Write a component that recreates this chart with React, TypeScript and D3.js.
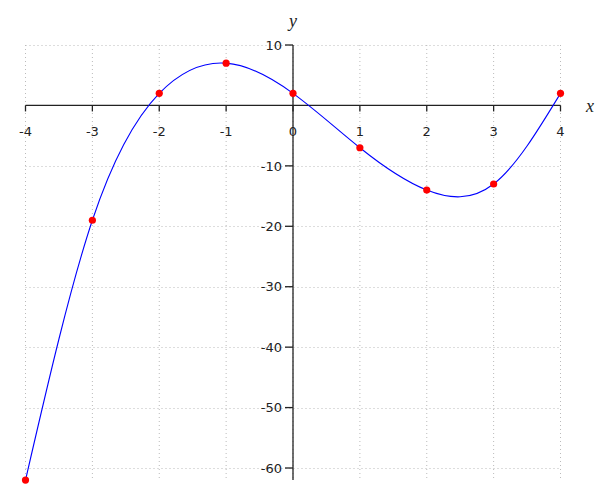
import React from "react";
import * as d3 from "d3";

const xValues = [-4, -3, -2, -1, 0, 1, 2, 3, 4];
const yValues = [-62, -19, 2, 7, 2, -7, -14, -13, 2];
const xTicks = [-4, -3, -2, -1, 0, 1, 2, 3, 4];
const yTicks = [10, 0, -10, -20, -30, -40, -50, -60];

export default function App() {
  const x = d3.scaleLinear().domain([-4, 4]).range([25.5, 560.5]);
  const y = d3.scaleLinear().domain([10, -60]).range([45, 468]);
  const pts = xValues.map((v, i) => [v, yValues[i]] as [number, number]);
  const line = d3
    .line<[number, number]>()
    .x((d) => x(d[0]))
    .y((d) => y(d[1]))
    .curve(d3.curveNatural);
  const x0 = x(0);
  const y0 = y(0);
  const yBottom = y(-62);
  const font = "DejaVu Sans, sans-serif";
  return (
    <svg
      width={600}
      height={500}
      style={{ position: "absolute", left: 0, top: 0, background: "#fff" }}
    >
      <g stroke="#bbb" strokeWidth={1} strokeDasharray="1 3">
        {yTicks.map((t) => (
          <line key={"h" + t} x1={x(-4)} x2={x(4)} y1={Math.round(y(t)) + 0.5} y2={Math.round(y(t)) + 0.5} />
        ))}
        {xTicks.map((t) => (
          <line key={"v" + t} x1={x(t)} x2={x(t)} y1={y(10)} y2={yBottom} />
        ))}
      </g>
      <g stroke="#222" strokeWidth={1.3}>
        <line x1={x(-4)} x2={x(4)} y1={y0} y2={y0} />
        <line x1={x0} x2={x0} y1={y(10)} y2={yBottom} />
        {xTicks.map((t) => (
          <line key={"xt" + t} x1={x(t)} x2={x(t)} y1={y0} y2={y0 + 6} />
        ))}
        {yTicks
          .filter((t) => t !== 0)
          .map((t) => (
            <line key={"yt" + t} x1={x0 - 8} x2={x0} y1={y(t)} y2={y(t)} />
          ))}
      </g>
      <g fontFamily={font} fontSize={13} fill="#222">
        {xTicks.map((t) => (
          <text key={"xl" + t} x={x(t)} y={y0 + 31} textAnchor="middle">
            {t}
          </text>
        ))}
        {yTicks
          .filter((t) => t !== 0)
          .map((t) => (
            <text key={"yl" + t} x={x0 - 11} y={y(t)} dy="0.36em" textAnchor="end">
              {t}
            </text>
          ))}
      </g>
      <text x={x0} y={27} fontFamily="Liberation Serif, serif" fontStyle="italic" fontSize={18} fill="#222" textAnchor="middle">
        y
      </text>
      <text x={590} y={112} fontFamily="Liberation Serif, serif" fontStyle="italic" fontSize={18} fill="#222" textAnchor="middle">
        x
      </text>
      <path d={line(pts) || ""} fill="none" stroke="#0000ff" strokeWidth={1.1} />
      <g fill="#ff0000">
        {pts.map((p, i) => (
          <circle key={i} cx={x(p[0])} cy={y(p[1])} r={3.6} />
        ))}
      </g>
    </svg>
  );
}
